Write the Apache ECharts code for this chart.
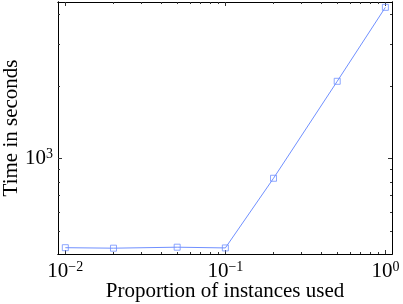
<!DOCTYPE html>
<html><head><meta charset="utf-8">
<script src="https://cdn.jsdelivr.net/npm/echarts@6/dist/echarts.min.js"></script>
<style>html,body{margin:0;padding:0;background:#fff}#c{width:403px;height:304px}</style>
</head><body><div id="c"></div>
<script>
const proportions = [0.01, 0.02, 0.05, 0.1, 0.2, 0.5, 1.0];
const timeSeconds = [425, 423, 427, 424, 828, 2101, 4275];
const xMajorTicks = [0.01, 0.1, 1];
const xMinorTicks = [0.02, 0.03, 0.04, 0.05, 0.06, 0.07, 0.08, 0.09, 0.2, 0.3, 0.4, 0.5, 0.6, 0.7, 0.8, 0.9];
const yMajorTicks = [1000];
const yMinorTicks = [500, 600, 700, 800, 900, 2000, 3000, 4000];
const xName = 'Proportion of instances used';
const yName = 'Time in seconds';

const FONT = 'Liberation Serif';
const LINE = '#7090ff';
const X_MIN = 0.009, X_MAX = 1.1, Y_MIN = 400, Y_MAX = 4500;

function expLabel(v) {
  const e = Math.round(Math.log10(v));
  return '{b|10}{s|' + (e < 0 ? '\u2212' + (-e) : e) + '}';
}
const rich = {
  b: {fontFamily: FONT, fontSize: 21, color: '#000'},
  s: {fontFamily: FONT, fontSize: 14, color: '#000', padding: [0, 0, 9, 0]}
};

function axis(kind, pos, ticks, len, showLabel, extra) {
  const isX = kind === 'x';
  return Object.assign({
    type: 'log',
    logBase: 10,
    position: pos,
    min: isX ? X_MIN : Y_MIN,
    max: isX ? X_MAX : Y_MAX,
    axisLine: {show: true, onZero: false, lineStyle: {color: '#000', width: 1}},
    axisTick: {show: true, inside: true, length: len, customValues: ticks, lineStyle: {color: '#333', width: 1}},
    axisLabel: showLabel ? {
      show: true, customValues: ticks, formatter: expLabel, rich: rich,
      margin: isX ? 6 : 5
    } : {show: false},
    splitLine: {show: false},
    minorTick: {show: false}
  }, extra || {});
}

const chart = echarts.init(document.getElementById('c'), null, {renderer: 'canvas'});
chart.setOption({
  animation: false,
  backgroundColor: '#fff',
  grid: {left: 58, right: 11, top: 2, bottom: 50, containLabel: false, outerBoundsMode: 'none'},
  xAxis: [
    axis('x', 'bottom', xMajorTicks, 4, true, {
      name: xName, nameLocation: 'middle', nameGap: 27, nameMoveOverlap: false,
      nameTextStyle: {fontFamily: FONT, fontSize: 21, color: '#000', verticalAlign: 'top'}
    }),
    axis('x', 'bottom', xMinorTicks, 2, false),
    axis('x', 'top', xMajorTicks, 4, false),
    axis('x', 'top', xMinorTicks, 2, false)
  ],
  yAxis: [
    axis('y', 'left', yMajorTicks, 4, true, {
      name: yName, nameLocation: 'middle', nameGap: 36, nameMoveOverlap: false,
      nameTextStyle: {fontFamily: FONT, fontSize: 21, color: '#000'}
    }),
    axis('y', 'left', yMinorTicks, 2, false),
    axis('y', 'right', yMajorTicks, 4, false),
    axis('y', 'right', yMinorTicks, 2, false)
  ],
  series: [{
    type: 'line',
    xAxisIndex: 0, yAxisIndex: 0,
    data: proportions.map((p, i) => [p, timeSeconds[i]]),
    symbol: 'rect',
    symbolSize: 6,
    lineStyle: {color: LINE, width: 1},
    itemStyle: {color: 'rgba(255,255,255,0)', borderColor: LINE, borderWidth: 0.8}
  }]
});
</script></body></html>
